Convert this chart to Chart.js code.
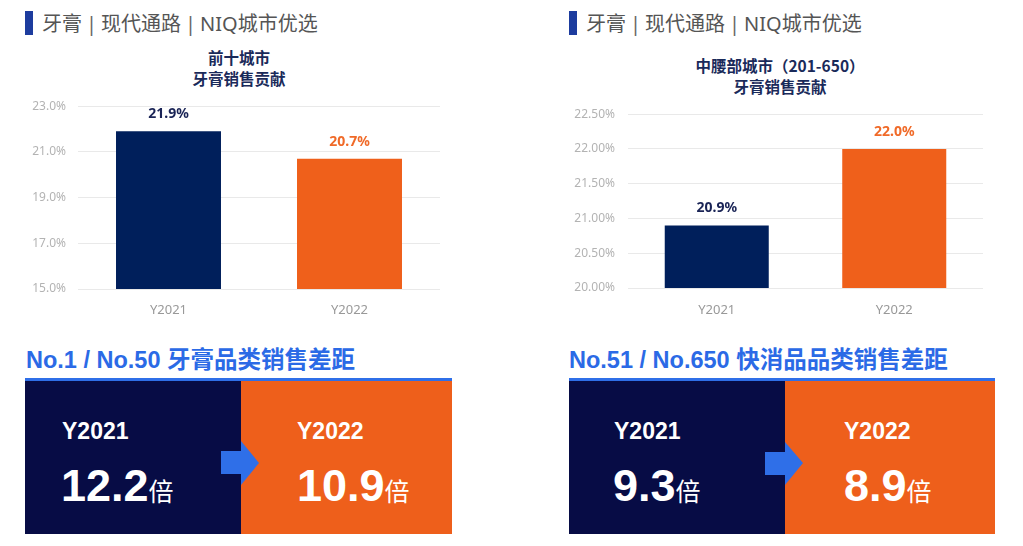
<!DOCTYPE html>
<html>
<head>
<meta charset="utf-8">
<script src="https://cdn.jsdelivr.net/npm/chart.js@4.4.1/dist/chart.umd.min.js"></script>
<style>
  html, body { margin:0; padding:0; background:#fff; }
  body { width:1023px; height:546px; position:relative; overflow:hidden; font-family:"Noto Sans","Noto Sans CJK SC",sans-serif; }
  .abs { position:absolute; }
  .hbar { position:absolute; width:8px; height:24px; background:#1d3c9e; }
  .htext { position:absolute; font-size:20px; color:#555; line-height:24px; white-space:nowrap; font-family:"Noto Sans","Noto Sans CJK SC",sans-serif; }
  .htext i { font-style:normal; margin:0 4px; color:#666; }
  .ctitle { position:absolute; font-size:15.5px; font-weight:bold; color:#1a2a5a; text-align:center; line-height:21px; width:300px; font-family:"Noto Sans CJK SC",sans-serif; }
  .sub { position:absolute; font-size:23.5px; font-weight:bold; color:#2b6ae6; white-space:nowrap; font-family:"Liberation Sans","Noto Sans CJK SC",sans-serif; line-height:24px; }
  .line { position:absolute; height:3px; background:#2f6fe8; }
  .box { position:absolute; }
  .yr { position:absolute; color:#fff; font-weight:bold; font-size:23px; font-family:"Liberation Sans",Arial,sans-serif; line-height:1; }
  .big { position:absolute; color:#fff; white-space:nowrap; line-height:1; }
  .big b { font-size:45px; font-family:"Liberation Sans",Arial,sans-serif; }
  .big span { font-size:25px; font-family:"Noto Sans CJK SC",sans-serif; font-weight:normal; }
  .chartbox { position:absolute; }
</style>
</head>
<body>
<div class="hbar" style="left:25px;top:11px;"></div>
<div class="htext" style="left:42px;top:12px;">牙膏<i>|</i>现代通路<i>|</i>NIQ城市优选</div>
<div class="hbar" style="left:569px;top:11px;"></div>
<div class="htext" style="left:586px;top:12px;">牙膏<i>|</i>现代通路<i>|</i>NIQ城市优选</div>

<div class="ctitle" style="left:89px;top:47px;">前十城市<br>牙膏销售贡献</div>
<div class="ctitle" style="left:630px;top:55px;">中腰部城市（201-650）<br>牙膏销售贡献</div>

<div class="chartbox" style="left:0px;top:87px;width:450px;height:243px;"><canvas id="c1"></canvas></div>
<div class="chartbox" style="left:540px;top:94px;width:453px;height:236px;"><canvas id="c2"></canvas></div>

<div class="sub" style="left:26px;top:348px;">No.1 / No.50 牙膏品类销售差距</div>
<div class="line" style="left:25px;top:378px;width:427px;"></div>
<div class="box" style="left:25px;top:381px;width:216px;height:153px;background:#070c45;"></div>
<div class="box" style="left:241px;top:381px;width:211px;height:153px;background:#ee5f1b;"></div>
<svg class="abs" style="left:221px;top:441px;" width="40" height="45"><rect x="0" y="10" width="21" height="23" fill="#2f6fe8"/><polygon points="20,0 38,22 20,44" fill="#2f6fe8"/></svg>
<div class="yr" style="left:62px;top:420px;">Y2021</div>
<div class="big" style="left:61px;top:463px;"><b>12.2</b><span>倍</span></div>
<div class="yr" style="left:297px;top:420px;">Y2022</div>
<div class="big" style="left:297px;top:463px;"><b>10.9</b><span>倍</span></div>

<div class="sub" style="left:569px;top:348px;">No.51 / No.650 快消品品类销售差距</div>
<div class="line" style="left:569px;top:378px;width:426px;"></div>
<div class="box" style="left:569px;top:381px;width:216px;height:153px;background:#070c45;"></div>
<div class="box" style="left:785px;top:381px;width:210px;height:153px;background:#ee5f1b;"></div>
<svg class="abs" style="left:765px;top:442px;" width="40" height="45"><rect x="0" y="10" width="21" height="23" fill="#2f6fe8"/><polygon points="20,0 38,21 20,43" fill="#2f6fe8"/></svg>
<div class="yr" style="left:614px;top:420px;">Y2021</div>
<div class="big" style="left:613px;top:463px;"><b>9.3</b><span>倍</span></div>
<div class="yr" style="left:844px;top:420px;">Y2022</div>
<div class="big" style="left:844px;top:463px;"><b>8.9</b><span>倍</span></div>

<script>
const categories = ['Y2021', 'Y2022'];
const topCityShare = [21.9, 20.7];
const midCityShare = [20.9, 22.0];
const leftTicks = [15, 17, 19, 21, 23];
const rightTicks = [20, 20.5, 21, 21.5, 22, 22.5];
const barColors = ['#001f5b', '#ef601b'];
const labelColors = ['#1a2456', '#f06a28'];

const valueLabels = {
  id: 'valueLabels',
  afterDatasetsDraw(chart) {
    const ctx = chart.ctx;
    const meta = chart.getDatasetMeta(0);
    const data = chart.data.datasets[0].data;
    ctx.save();
    ctx.font = 'bold 14px "Noto Sans", sans-serif';
    ctx.textAlign = 'center';
    ctx.textBaseline = 'middle';
    meta.data.forEach((el, i) => {
      ctx.fillStyle = labelColors[i];
      ctx.fillText(data[i].toFixed(1) + '%', el.x, el.y - 17);
    });
    ctx.restore();
  }
};

function makeChart(id, values, ticks, decimals, yWidth, padTop, tickPad, barPct, xHeight, xPad) {
  return new Chart(document.getElementById(id), {
    type: 'bar',
    data: {
      labels: categories,
      datasets: [{ data: values, backgroundColor: barColors, borderWidth: 0 }]
    },
    options: {
      responsive: true,
      maintainAspectRatio: false,
      animation: false,
      layout: { padding: { top: padTop, right: 10, left: 0, bottom: 0 } },
      plugins: { legend: { display: false }, tooltip: { enabled: false }, title: { display: false } },
      datasets: { bar: { categoryPercentage: 1, barPercentage: barPct } },
      scales: {
        x: {
          grid: { display: false, drawTicks: false },
          border: { display: false },
          ticks: { color: '#999', font: { family: '"Noto Sans", sans-serif', size: 13 }, padding: xPad },
          afterFit(s) { s.height = xHeight; }
        },
        y: {
          min: ticks[0],
          max: ticks[ticks.length - 1],
          afterBuildTicks(s) { s.ticks = ticks.map(v => ({ value: v })); },
          grid: { color: '#e9e9e9', drawTicks: false, lineWidth: 1 },
          border: { display: false },
          ticks: {
            color: '#b3b3b3',
            font: { family: '"Noto Sans", sans-serif', size: 12 },
            padding: tickPad,
            callback: v => Number(v).toFixed(decimals) + '%'
          },
          afterFit(s) { s.width = yWidth; }
        }
      }
    },
    plugins: [valueLabels]
  });
}

makeChart('c1', topCityShare, leftTicks, 1, 78, 0, 12, 0.58, 41, 13);
makeChart('c2', midCityShare, rightTicks, 2, 88, 18, 13, 0.586, 42, 14);
</script>
</body>
</html>
